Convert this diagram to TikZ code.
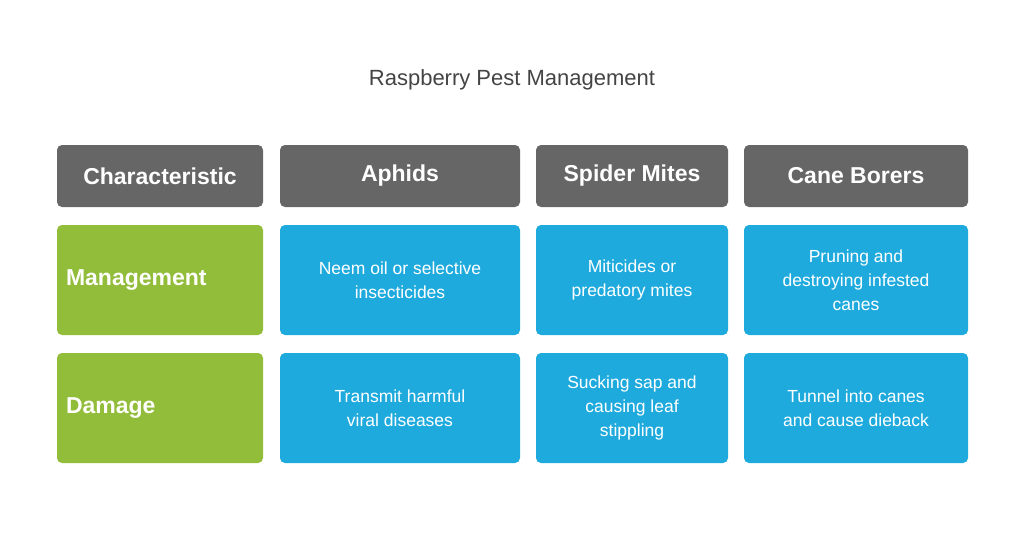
\documentclass[tikz,border=0pt]{standalone}
\usepackage{fontspec}
\setmainfont{Liberation Sans}
\definecolor{headgray}{HTML}{666666}
\definecolor{rowgreen}{HTML}{92BD3A}
\definecolor{cellblue}{HTML}{1FAADD}
\definecolor{titlegray}{HTML}{444444}
\begin{document}
\begin{tikzpicture}[x=1pt,y=-1pt,
    cell/.style={rounded corners=5pt,inner sep=0pt,align=center,text=white},
    head node/.style={cell,fill=headgray,font=\fontsize{23}{27}\selectfont\bfseries},
    row node/.style={cell,fill=rowgreen,font=\fontsize{23}{27}\selectfont\bfseries},
    body node/.style={cell,fill=cellblue,font=\fontsize{17.5}{24}\selectfont}]
    \useasboundingbox (0,0) rectangle (1024,544);

    % Title
    \node[text=titlegray,font=\fontsize{22}{26}\selectfont] (title) at (512,80) {Raspberry Pest Management};

    % Header row
    \node[head node,minimum width=206pt,minimum height=62pt] (hchar) at (160,176) {Characteristic};
    \node[head node,minimum width=240pt,minimum height=62pt] (haph) at (400,176) {Aphids};
    \node[head node,minimum width=192pt,minimum height=62pt] (hspi) at (632,176) {Spider Mites};
    \node[head node,minimum width=224pt,minimum height=62pt] (hcan) at (856,176) {Cane Borers};

    % Management row
    \node[row node,minimum width=206pt,minimum height=110pt,text width=188pt,align=left] (rman) at (160,280) {Management};
    \node[body node,minimum width=240pt,minimum height=110pt] (maph) at (400,280) {Neem oil or selective\\insecticides};
    \node[body node,minimum width=192pt,minimum height=110pt] (mspi) at (632,280) {Miticides or\\predatory mites};
    \node[body node,minimum width=224pt,minimum height=110pt] (mcan) at (856,280) {Pruning and\\destroying infested\\canes};

    % Damage row
    \node[row node,minimum width=206pt,minimum height=110pt,text width=188pt,align=left] (rdam) at (160,408) {Damage};
    \node[body node,minimum width=240pt,minimum height=110pt] (daph) at (400,408) {Transmit harmful\\viral diseases};
    \node[body node,minimum width=192pt,minimum height=110pt] (dspi) at (632,408) {Sucking sap and\\causing leaf\\stippling};
    \node[body node,minimum width=224pt,minimum height=110pt] (dcan) at (856,408) {Tunnel into canes\\and cause dieback};
\end{tikzpicture}
\end{document}
